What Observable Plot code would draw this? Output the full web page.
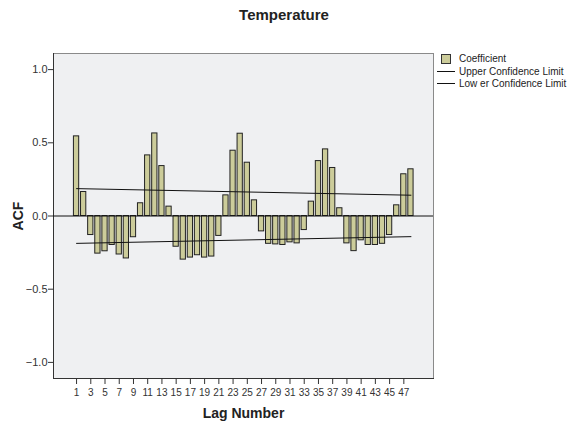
<!DOCTYPE html>
<html>
<head>
<meta charset="utf-8">
<script src="https://cdn.jsdelivr.net/npm/d3@7"></script>
<script src="https://cdn.jsdelivr.net/npm/@observablehq/plot@0.6"></script>
<style>
  html, body { margin: 0; padding: 0; background: #fff; }
  #wrap { position: relative; width: 568px; height: 424px; font-family: "Liberation Sans", Arial, sans-serif; color: #222; }
  #title { position: absolute; left: 0; width: 568px; top: 6px; text-align: center; font-weight: bold; font-size: 15px; }
  .leg { position: absolute; font-size: 10px; white-space: nowrap; line-height: 12px; color: #222; }
  .sw { position: absolute; width: 8px; height: 8px; background: #cccc9a; border: 1px solid #333; }
  .ln { position: absolute; width: 18px; height: 0; border-top: 1px solid #111; }
  #chart { position: absolute; left: 0; top: 0; }
</style>
</head>
<body>
<div id="wrap">
  <div id="chart"></div>
  <div id="title">Temperature</div>
  <div class="sw" style="left:441px; top:54px;"></div>
  <div class="leg" style="left:459px; top:53px;">Coefficient</div>
  <div class="ln" style="left:437px; top:71px;"></div>
  <div class="leg" style="left:459px; top:66px;">Upper Confidence Limit</div>
  <div class="ln" style="left:437px; top:83px;"></div>
  <div class="leg" style="left:459px; top:78px;">Low er Confidence Limit</div>
</div>
<script>
const lags = [1,2,3,4,5,6,7,8,9,10,11,12,13,14,15,16,17,18,19,20,21,22,23,24,25,26,27,28,29,30,31,32,33,34,35,36,37,38,39,40,41,42,43,44,45,46,47,48];
const coefficients = [0.544,0.164,-0.130,-0.257,-0.241,-0.198,-0.263,-0.290,-0.145,0.087,0.414,0.564,0.341,0.064,-0.210,-0.298,-0.284,-0.268,-0.284,-0.277,-0.136,0.141,0.446,0.562,0.364,0.107,-0.105,-0.190,-0.194,-0.198,-0.180,-0.187,-0.096,0.098,0.375,0.455,0.328,0.053,-0.187,-0.240,-0.166,-0.198,-0.198,-0.190,-0.130,0.073,0.285,0.319];
const limitLags = [1, 48];
const upperLimit = [0.187, 0.142];
const lowerLimit = [-0.187, -0.141];
const xTicks = [1,3,5,7,9,11,13,15,17,19,21,23,25,27,29,31,33,35,37,39,41,43,45,47];
const yTicks = [-1.0, -0.5, 0.0, 0.5, 1.0];

const bars = lags.map((l, i) => ({lag: l, acf: coefficients[i]}));
const upper = limitLags.map((l, i) => ({lag: l, v: upperLimit[i]}));
const lower = limitLags.map((l, i) => ({lag: l, v: lowerLimit[i]}));
const hw = 0.37;

const chart = Plot.plot({
  width: 568,
  height: 424,
  marginLeft: 53,
  marginRight: 135,
  marginTop: 53,
  marginBottom: 46,
  style: {fontFamily: "'Liberation Sans', Arial, sans-serif", fontSize: "11px", color: "#333", background: "transparent"},
  x: {domain: [-2.24, 51.17]},
  y: {domain: [-1.11, 1.11]},
  marks: [
    Plot.frame({fill: "#eff0f2", stroke: "#8a8a8a"}),
    Plot.frame({anchor: "left", stroke: "#333"}),
    Plot.frame({anchor: "bottom", stroke: "#333"}),
    Plot.rectY(bars, {x1: d => d.lag - hw, x2: d => d.lag + hw, y1: 0, y2: "acf", fill: "#cccc9a", stroke: "#222", strokeWidth: 1}),
    Plot.ruleY([0], {stroke: "#111", strokeWidth: 1}),
    Plot.line(upper, {x: "lag", y: "v", stroke: "#111", strokeWidth: 1}),
    Plot.line(lower, {x: "lag", y: "v", stroke: "#111", strokeWidth: 1}),
    Plot.axisX({ticks: xTicks, tickFormat: d => String(d), tickSize: 6, tickPadding: 4, stroke: "#333", fontSize: 10,
      label: null}),
    Plot.axisX({ticks: [], label: "Lag Number", labelAnchor: "center", labelOffset: 39, labelArrow: "none"}),
    Plot.axisY({ticks: yTicks, tickFormat: d3.format(".1f"), tickSize: 5, tickPadding: 1, stroke: "#333",
      label: null}),
    Plot.axisY({ticks: [], label: "ACF", labelAnchor: "center", labelOffset: 40, labelArrow: "none"})
  ]
});
d3.select(chart).selectAll("[aria-label='x-axis label'], [aria-label='y-axis label']")
  .style("font-size", "14px").style("font-weight", "bold").style("fill", "#222");
document.getElementById("chart").appendChild(chart);
</script>
</body>
</html>
